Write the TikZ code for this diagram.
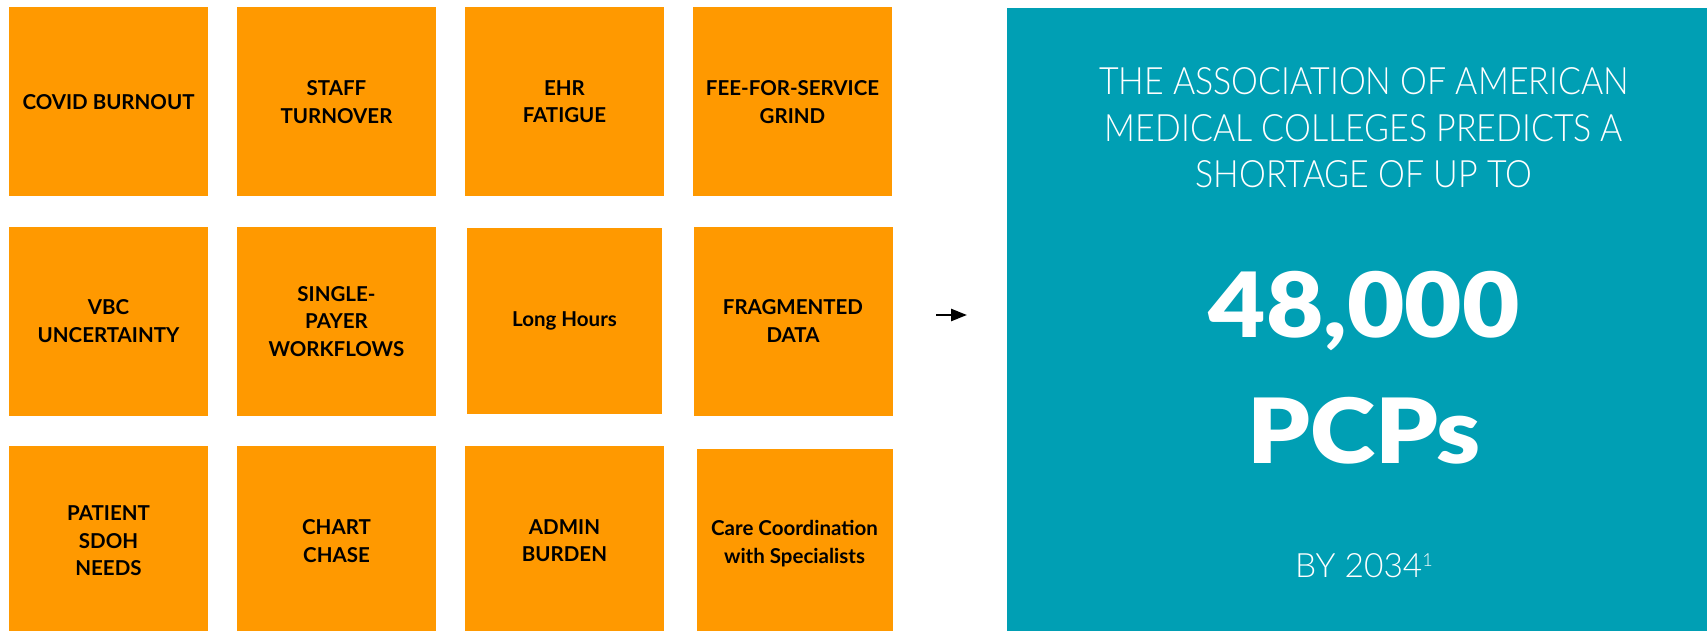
\documentclass[tikz,border=0pt]{standalone}
\usepackage{fontspec}
\setmainfont{Lato}
\newfontfamily\latolight{Lato Light}[FakeStretch=0.9]
\newfontfamily\latoyear{Lato Light}
\newfontfamily\latoblack{Lato Black}[FakeStretch=1.1]
\usepackage{xcolor}
\usepackage{tikz}
\usetikzlibrary{positioning,arrows.meta}

\definecolor{boxorange}{RGB}{255,153,0}
\definecolor{statteal}{RGB}{0,159,180}

\begin{document}
\begin{tikzpicture}[x=1pt, y=-1pt, node distance=30.5pt and 29pt,
  issue/.style={fill=boxorange, minimum width=199pt, minimum height=189pt, inner sep=0pt, outer sep=0pt, align=center, font=\bfseries\fontsize{20.5}{27.7}\selectfont},
  statbox/.style={fill=statteal, minimum width=700pt, minimum height=624pt, inner sep=0pt, outer sep=0pt},
  stattext/.style={text=white, anchor=base, inner sep=0pt},
  headline/.style={stattext, font=\latolight\fontsize{37.7}{45.7}\selectfont},
  bignum/.style={stattext, font=\latoblack\fontsize{90}{100}\selectfont}]
  \useasboundingbox (0,0) rectangle (1707,631);

  % grid of pain points
  \node[issue] (covid) at (108.5,101.8) {COVID BURNOUT};
  \node[issue, right=of covid] (staff) {STAFF\\TURNOVER};
  \node[issue, right=of staff] (ehr) {EHR\\FATIGUE};
  \node[issue, right=of ehr] (fee) {FEE-FOR-SERVICE\\GRIND};
  \node[issue, below=of covid] (vbc) {VBC\\UNCERTAINTY};
  \node[issue, right=of vbc] (payer) {SINGLE-\\PAYER\\WORKFLOWS};
  \node[issue, right=31pt of payer, minimum width=195pt, minimum height=186pt] (hours) {Long Hours};
  \node[issue, right=31.5pt of hours] (frag) {FRAGMENTED\\DATA};
  \node[issue, below=of vbc] (sdoh) {PATIENT\\SDOH\\NEEDS};
  \node[issue, right=of sdoh] (chart) {CHART\\CHASE};
  \node[issue, right=of chart] (admin) {ADMIN\\BURDEN};
  \node[issue, right=32.5pt of admin, minimum width=196pt, yshift=-2.5pt] (care) {Care Coordination\\with Specialists};

  % the shortage panel
  \node[statbox, anchor=north west] (stat) at (1007,7.6) {};
  \node[headline] (line1) at (1364,94.7) {THE ASSOCIATION OF AMERICAN};
  \node[headline] (line2) at (1364,141.5) {MEDICAL COLLEGES PREDICTS A};
  \node[headline] (line3) at (1364,187.2) {SHORTAGE OF UP TO};
  \node[bignum] (count) at (1364,337.5) {48,000};
  \node[bignum] (unit) at (1364,463) {PCPs};
  \node[stattext, font=\latoyear\fontsize{33.5}{40}\selectfont] (year) at (1364,577) {BY 2034\raisebox{11pt}{\fontsize{18}{18}\selectfont 1}};

  \coordinate (arrtail) at (936,315);
  \coordinate (arrtip) at (967,315);
  \draw[-{Triangle[length=16pt,width=12pt]}, line width=2.5pt] (arrtail) -- (arrtip);
\end{tikzpicture}
\end{document}
